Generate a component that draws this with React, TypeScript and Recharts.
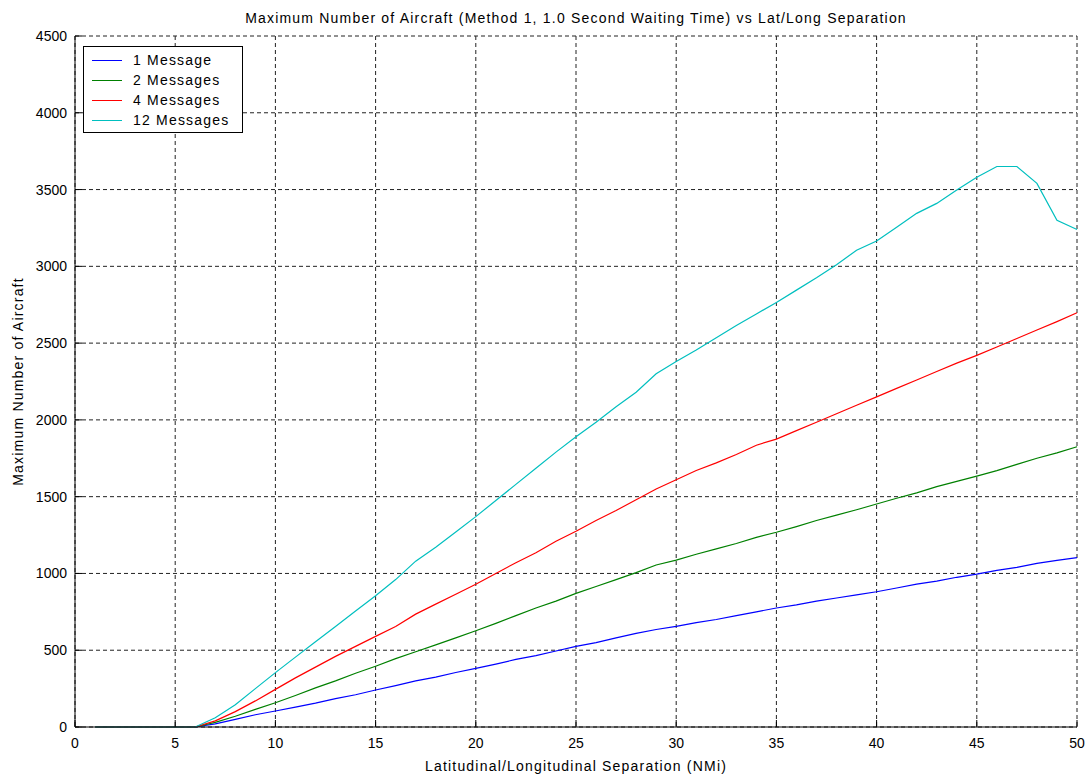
import React from "react";
import {
  LineChart,
  Line,
  XAxis,
  YAxis,
  CartesianGrid,
} from "recharts";

// Lat/long separation in NMi
const separation = [
  1, 2, 3, 4, 5, 6, 7, 8, 9, 10, 11, 12, 13, 14, 15, 16, 17, 18, 19, 20, 21, 22, 23, 24, 25,
  26, 27, 28, 29, 30, 31, 32, 33, 34, 35, 36, 37, 38, 39, 40, 41, 42, 43, 44, 45, 46, 47, 48, 49, 50,
];

const oneMessage = [
  0, 0, 0, 0, 0, 0, 20, 50, 80, 104, 130, 155, 185, 210, 241, 270, 300, 325, 355, 382, 410, 440, 465, 495, 525,
  550, 580, 610, 635, 655, 680, 700, 725, 750, 775, 795, 820, 840, 860, 881, 905, 930, 950, 975, 996, 1020, 1040, 1065, 1085, 1103,
];

const twoMessages = [
  0, 0, 0, 0, 0, 0, 30, 70, 115, 158, 205, 255, 300, 350, 396, 445, 490, 535, 580, 627, 675, 725, 775, 820, 870,
  915, 960, 1005, 1055, 1087, 1125, 1160, 1195, 1235, 1268, 1305, 1345, 1380, 1415, 1452, 1490, 1525, 1565, 1600, 1634, 1670, 1710, 1750, 1785, 1825,
];

const fourMessages = [
  0, 0, 0, 0, 0, 0, 40, 100, 170, 245, 320, 390, 460, 525, 590, 655, 735, 800, 865, 930, 1000, 1070, 1135, 1210, 1275,
  1345, 1410, 1480, 1550, 1610, 1670, 1720, 1775, 1835, 1875, 1930, 1985, 2040, 2095, 2150, 2205, 2260, 2315, 2370, 2420, 2475, 2530, 2585, 2640, 2698,
];

const twelveMessages = [
  0, 0, 0, 0, 0, 0, 60, 145, 250, 354, 455, 555, 655, 755, 855, 960, 1080, 1170, 1270, 1370, 1475, 1580, 1685, 1790, 1890,
  1985, 2085, 2180, 2300, 2380, 2455, 2535, 2615, 2690, 2765, 2845, 2925, 3010, 3105, 3165, 3255, 3345, 3410, 3497, 3580, 3650, 3650, 3540, 3300, 3240,
];

const seriesKeys = ["m1", "m2", "m4", "m12"];
const seriesNames = ["1 Message", "2 Messages", "4 Messages", "12 Messages"];
const seriesColors = ["#0000ff", "#008000", "#ff0000", "#00bfbf"];

const xTicks = [0, 5, 10, 15, 20, 25, 30, 35, 40, 45, 50];
const yTicks = [0, 500, 1000, 1500, 2000, 2500, 3000, 3500, 4000, 4500];

const data = separation.map((x, i) => ({
  x,
  m1: oneMessage[i],
  m2: twoMessages[i],
  m4: fourMessages[i],
  m12: twelveMessages[i],
}));

const FONT = "'Liberation Sans', Arial, sans-serif";
// the original's UI font runs wider than Arial, so open the letters up a bit
const SPACING = 1.2;
const tickStyle = { fontSize: 14, fill: "#000", fontFamily: FONT };
const labelStyle = { fontSize: 14, fill: "#000", fontFamily: FONT, letterSpacing: SPACING };

// MATLAB-style legend box in the upper left corner of the axes
function LegendBox() {
  return (
    <div
      style={{
        position: "absolute",
        left: 83,
        top: 46,
        width: 160,
        height: 87,
        boxSizing: "border-box",
        border: "1px solid #000",
        background: "#fff",
        paddingTop: 3,
        fontFamily: FONT,
        fontSize: 14,
        letterSpacing: SPACING,
        color: "#000",
      }}
    >
      {seriesNames.map((name, i) => (
        <div key={name} style={{ height: 20, display: "flex", alignItems: "center" }}>
          <div style={{ width: 30, height: 0, borderTop: `1px solid ${seriesColors[i]}`, marginLeft: 8, marginRight: 11 }} />
          <span>{name}</span>
        </div>
      ))}
    </div>
  );
}

export default function App() {
  return (
    <div style={{ position: "absolute", left: 0, top: 0, width: 1090, height: 775, background: "#fff" }}>
      <LineChart
        width={1090}
        height={775}
        data={data}
        margin={{ top: 36, right: 13, bottom: 0, left: 0 }}
      >
        <text x={576} y={23} textAnchor="middle" style={labelStyle}>
          Maximum Number of Aircraft (Method 1, 1.0 Second Waiting Time) vs Lat/Long Separation
        </text>
        <CartesianGrid stroke="#222" strokeDasharray="4 3" />
        <XAxis
          dataKey="x"
          type="number"
          domain={[0, 50]}
          ticks={xTicks}
          height={48}
          tickSize={-7}
          tickMargin={18}
          tick={tickStyle}
          stroke="#000"
          label={{
            value: "Latitudinal/Longitudinal Separation (NMi)",
            position: "insideBottom",
            offset: 4,
            style: labelStyle,
          }}
        />
        <XAxis
          xAxisId="top"
          orientation="top"
          type="number"
          domain={[0, 50]}
          ticks={xTicks}
          height={0}
          tickSize={-7}
          tickFormatter={() => ""}
          stroke="#000"
        />
        <YAxis
          type="number"
          domain={[0, 4500]}
          ticks={yTicks}
          width={75}
          tickSize={-7}
          tickMargin={15}
          tick={tickStyle}
          stroke="#000"
          label={{
            value: "Maximum Number of Aircraft",
            angle: -90,
            position: "insideLeft",
            offset: 18,
            style: { ...labelStyle, textAnchor: "middle" },
          }}
        />
        <YAxis
          yAxisId="right"
          orientation="right"
          type="number"
          domain={[0, 4500]}
          ticks={yTicks}
          width={0}
          tickSize={-7}
          tickFormatter={() => ""}
          stroke="#000"
        />
        {seriesKeys.map((k, i) => (
          <Line
            key={k}
            type="linear"
            dataKey={k}
            name={seriesNames[i]}
            stroke={seriesColors[i]}
            strokeWidth={1.2}
            dot={false}
            isAnimationActive={false}
          />
        ))}
      </LineChart>
      <LegendBox />
    </div>
  );
}
